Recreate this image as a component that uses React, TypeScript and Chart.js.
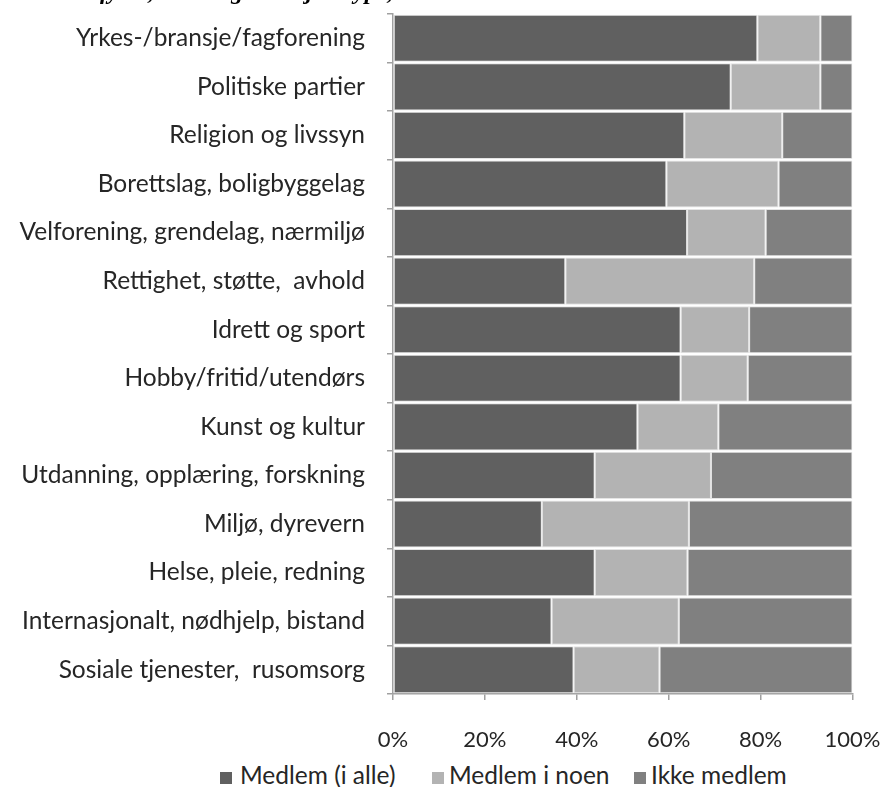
import React, { useEffect, useRef } from "react";
import { Chart, registerables } from "chart.js";

Chart.register(...registerables);

const categories = [
  "Yrkes-/bransje/fagforening",
  "Politiske partier",
  "Religion og livssyn",
  "Borettslag, boligbyggelag",
  "Velforening, grendelag, nærmiljø",
  "Rettighet, støtte,  avhold",
  "Idrett og sport",
  "Hobby/fritid/utendørs",
  "Kunst og kultur",
  "Utdanning, opplæring, forskning",
  "Miljø, dyrevern",
  "Helse, pleie, redning",
  "Internasjonalt, nødhjelp, bistand",
  "Sosiale tjenester,  rusomsorg",
];

const seriesNames = ["Medlem (i alle)", "Medlem i noen", "Ikke medlem"];
const medlemAlle = [79.3, 73.5, 63.4, 59.5, 64.0, 37.5, 62.6, 62.6, 53.2, 43.9, 32.4, 43.9, 34.5, 39.3];
const medlemNoen = [13.7, 19.5, 21.3, 24.4, 17.1, 41.1, 14.9, 14.6, 17.6, 25.3, 32.0, 20.2, 27.7, 18.7];
const ikkeMedlem = [7.0, 7.0, 15.3, 16.1, 18.9, 21.4, 22.5, 22.8, 29.2, 30.8, 35.6, 35.9, 37.8, 42.0];
const xTicks = [0, 20, 40, 60, 80, 100];
const titleText = "fylke, etter organisasjonstype,";

const colors = ["#606060", "#b3b3b3", "#808080"];
const FONT = "Lato, 'Open Sans', sans-serif";

export default function App() {
  const ref = useRef<HTMLCanvasElement | null>(null);

  useEffect(() => {
    if (!ref.current) return;
    const titlePlugin = {
      id: "cutTitle",
      afterDraw(chart: any) {
        const ctx = chart.ctx;
        ctx.save();
        ctx.font = "italic bold 24px 'Liberation Serif'";
        ctx.fillStyle = "#000";
        ctx.textBaseline = "alphabetic";
        ctx.textAlign = "left";
        ctx.fillText(titleText, 100, -1);
        ctx.restore();
      },
    };
    const chart = new Chart(ref.current, {
      type: "bar",
      data: {
        labels: categories,
        datasets: [medlemAlle, medlemNoen, ikkeMedlem].map((d, i) => ({
          label: seriesNames[i],
          data: d,
          backgroundColor: colors[i],
          borderColor: "#e4e4e4",
          borderWidth: 1,
          borderSkipped: false,
          barPercentage: 0.97,
          categoryPercentage: 1,
        })),
      },
      options: {
        indexAxis: "y",
        animation: false,
        responsive: false,
        maintainAspectRatio: false,
        layout: { padding: { top: 14, right: 32.5, left: 0, bottom: 0 } },
        plugins: {
          legend: { display: false },
          tooltip: { enabled: false },
          title: { display: false },
        },
        scales: {
          x: {
            stacked: true,
            min: 0,
            max: 100,
            afterBuildTicks(scale: any) {
              scale.ticks = xTicks.map((v) => ({ value: v }));
            },
            afterFit(scale: any) {
              scale.height = 66;
              scale.paddingLeft = 0;
              scale.paddingRight = 0;
            },
            ticks: {
              callback: (v: any) => v + "%",
              font: { family: FONT, size: 22 },
              color: "#262626",
              padding: 27,
              maxRotation: 0,
            },
            grid: {
              drawOnChartArea: false,
              drawTicks: true,
              tickLength: 6,
              color: "#a0a0a0",
              lineWidth: 1.5,
            },
            border: { display: true, color: "#a0a0a0", width: 1.5 },
          },
          y: {
            stacked: true,
            afterFit(scale: any) {
              scale.width = 393;
              scale.paddingTop = 0;
              scale.paddingBottom = 0;
            },
            ticks: {
              font: { family: FONT, size: 24.5 },
              color: "#262626",
              padding: 22,
              autoSkip: false,
            },
            grid: {
              offset: true,
              drawOnChartArea: false,
              drawTicks: true,
              tickLength: 6,
              color: "#a0a0a0",
              lineWidth: 1.5,
            },
            border: { display: true, color: "#a0a0a0", width: 1.5 },
          },
        },
      },
      plugins: [titlePlugin],
    });
    return () => chart.destroy();
  }, []);

  const legendItems = [
    { sq: 220, tx: 240 },
    { sq: 432, tx: 449 },
    { sq: 634, tx: 651 },
  ];

  return (
    <div style={{ position: "absolute", left: 0, top: 0, width: 885, height: 787, background: "#fff", overflow: "hidden" }}>
      <canvas ref={ref} width={885} height={760} style={{ position: "absolute", left: 0, top: 0, width: 885, height: 760 }} />
      {seriesNames.map((name, i) => (
        <React.Fragment key={name}>
          <div
            style={{
              position: "absolute",
              left: legendItems[i].sq,
              top: 772,
              width: 12,
              height: 12,
              background: colors[i],
            }}
          />
          <div
            style={{
              position: "absolute",
              left: legendItems[i].tx,
              top: 761,
              fontFamily: FONT,
              fontSize: 24.5,
              lineHeight: "28px",
              color: "#262626",
              whiteSpace: "nowrap",
            }}
          >
            {name}
          </div>
        </React.Fragment>
      ))}
    </div>
  );
}
